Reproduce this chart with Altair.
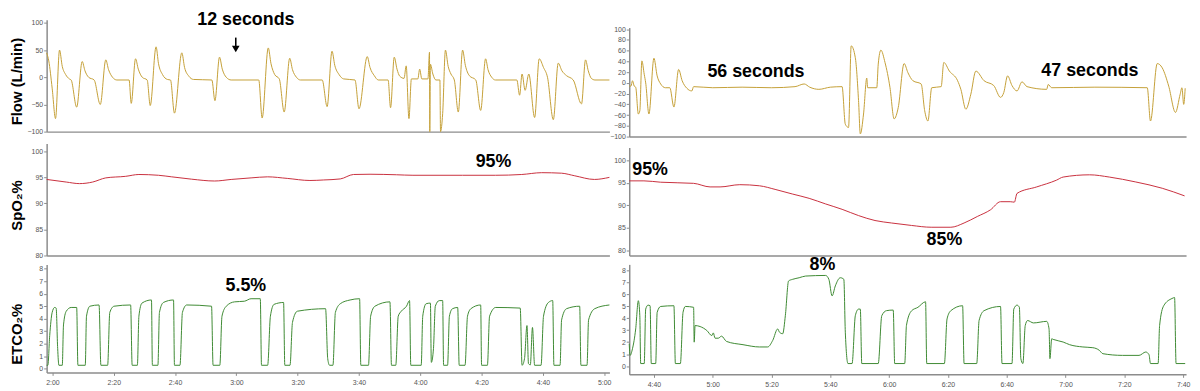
import altair as alt
import pandas as pd

# ---------------- data (time in seconds, value) ----------------
flow_left = [
    (118.1, 45), (118.8, 30), (119.9, -20), (121.0, -76), (122.3, 50), (123.2, 20), (124.3, 5), (125.5, -3), (126.1, -5),
    (127.9, -55), (129.7, 29), (130.6, 12), (131.8, 0), (133.6, -5),
    (135.6, -50), (137.4, 32), (138.3, 14), (139.6, 0), (141.0, -5), (145.0, -5),
    (145.7, -48), (147.1, 34), (148.0, 15), (149.3, 0), (150.9, -5),
    (151.9, -52), (153.8, 56), (154.6, 25), (155.9, 5), (157.5, -4), (158.5, -5),
    (159.8, -66), (162.2, 45), (163.1, 18), (164.5, 2), (166.0, -4), (172.0, -5),
    (173.0, -43), (174.5, 37), (175.4, 15), (176.7, 0), (178.3, -5), (187.3, -5),
    (188.4, -75), (190.4, 54), (191.3, 25), (192.5, 5), (194.0, -3),
    (195.6, -64), (197.4, 35), (198.3, 14), (199.6, 0), (200.9, -5),
    (208.0, -5), (209.6, -54), (211.2, 48), (212.1, 22), (213.5, 5), (215.0, -3), (218.7, -5),
    (220.0, -58), (222.7, 38), (223.6, 18), (225.0, 3), (226.3, -5), (229.5, -5),
    (230.3, -56), (231.5, 37), (232.4, 15), (233.3, 2), (234.7, -2), (235.4, 21), (236.3, -76),
    (237.1, -3), (239.2, -3), (239.8, 15), (240.5, -3), (242.5, -3), (243.0, 46), (243.1, -100),
    (243.3, 24), (244.1, 6), (245.1, -5), (246.4, -5), (246.6, -100), (247.3, -67), (248.2, 50),
    (249.1, 20), (250.0, 6), (251.1, -5), (252.4, -64), (253.8, 50), (254.7, 22), (256.0, 3),
    (258.1, -5), (259.7, -61), (261.3, 34), (262.1, 14), (263.3, 0), (264.5, -5), (271.5, -5),
    (272.4, -33), (273.2, 6), (274.2, -24), (275.4, 6), (277.3, -74), (278.8, 34), (280.2, 18),
    (281.5, 0), (283.4, -78), (285.0, 26), (286.2, 12), (287.7, 3), (289.9, -5), (292.6, -49),
    (293.9, 32), (294.8, 12), (295.8, -2), (297.0, -5), (301.7, -5),
]

flow_right = [
    (271.6, -6), (272.2, -6), (272.7, 4), (273.3, -6), (273.8, -8), (274.7, -58), (275.2, -52),
    (275.9, 41), (276.7, 16), (277.2, 0), (278.3, -58), (280.0, 46), (281.1, 13), (282.3, -2),
    (283.9, -9), (285.4, -9), (286.8, -45), (288.4, 25), (289.6, 4), (291.2, -10), (292.9, -15),
    (293.5, -7), (300.0, -9), (310.0, -8), (320.0, -9), (328.0, -7), (331.1, -2), (333.0, -8),
    (336.1, -12), (340.0, -8), (344.0, -7), (345.1, -77), (346.2, -83), (347.1, 69), (348.5, 47),
    (349.6, -33), (350.2, -95), (351.3, -58), (352.4, 9), (352.7, -9), (355.8, -9), (356.3, 35),
    (357.2, 61), (358.6, 38), (360.3, -9), (361.7, -67), (363.1, -46), (365.1, 36), (366.4, 19),
    (368.1, 4), (370.9, -2), (372.1, -52), (373.2, -71), (374.5, -9), (377.7, -7), (378.6, 38),
    (380.5, 22), (383.3, 4), (384.4, -12), (386.1, -49), (387.8, -21), (389.5, 22), (392.3, 4),
    (395.6, -5), (397.9, -27), (399.0, -18), (400.3, 13), (401.8, -5), (403.5, -15), (405.2, 2),
    (406.9, -7), (413.6, -12), (414.1, -3), (415.3, -9), (430.0, -8), (447.8, -9), (448.9, -71),
    (451.2, 36), (452.9, 28), (455.1, -6), (457.4, -55), (459.0, -21), (459.6, -9), (460.2, -40),
    (460.7, -10),
]

spo2_left = [
    (118.1, 94.6), (124.5, 94.1), (128.8, 93.8), (133.1, 94.1), (137.4, 94.9), (143.9, 95.2),
    (148.2, 95.55), (154.6, 95.4), (158.9, 95.1), (165.4, 94.65), (172.9, 94.3), (178.3, 94.6),
    (184.8, 94.9), (190.2, 95.1), (196.6, 94.8), (204.0, 94.4), (208.5, 94.5), (213.9, 94.7),
    (218.2, 95.55), (223.6, 95.6), (232.2, 95.5), (237.6, 95.4), (253.8, 95.4), (264.5, 95.4),
    (273.1, 95.55), (279.6, 95.9), (286.1, 95.8), (290.4, 95.3), (296.8, 94.6), (301.7, 95.0),
]

spo2_right = [
    (271.6, 95.45), (276.6, 95.45), (282.3, 95.15), (293.5, 94.9), (299.1, 94.1), (302.5, 94.1),
    (309.2, 94.6), (315.9, 94.35), (321.5, 93.5), (327.2, 92.5), (332.8, 91.55), (338.4, 90.3),
    (344.0, 89.1), (349.6, 87.7), (355.2, 86.6), (360.8, 86.05), (367.6, 85.5), (374.3, 85.1),
    (381.0, 85.1), (385.5, 86.05), (390.0, 87.5), (394.5, 89.0), (397.9, 90.8), (401.2, 90.8),
    (402.6, 90.7), (403.5, 92.65), (410.2, 94.1), (416.9, 95.6), (419.2, 96.3), (428.2, 96.8),
    (434.9, 96.3), (443.9, 95.2), (452.9, 93.8), (460.5, 92.1),
]

etco2_left = [
    (118.1, 0.27), (118.5, 0.27), (119.1, 2.65), (119.9, 4.5), (120.7, 4.9), (121.2, 4.85), (121.7, 1.6),
    (122.1, 0.27), (123.2, 0.27), (123.6, 3.5), (124.5, 4.6), (126.1, 4.9), (127.9, 4.9), (128.3, 0.27),
    (130.7, 0.27), (131.1, 4.2), (132.2, 5.0), (135.2, 5.1), (135.8, 0.27), (138.0, 0.27), (138.7, 4.5),
    (140.1, 5.0), (145.5, 5.1), (146.0, 0.27), (147.7, 0.27), (148.2, 4.2), (149.2, 5.25), (152.3, 5.5),
    (152.6, 0.27), (154.4, 0.27), (154.9, 4.5), (156.2, 5.3), (159.5, 5.5), (159.8, 0.27), (161.6, 0.27),
    (162.4, 4.5), (163.8, 5.1), (171.9, 5.0), (172.4, 0.27), (174.6, 0.27), (175.3, 4.2), (176.7, 5.0),
    (179.4, 5.35), (182.6, 5.4), (184.8, 5.6), (187.8, 5.6), (188.2, 0.27), (190.2, 0.27), (191.1, 4.2),
    (192.3, 5.15), (195.4, 5.3), (195.8, 0.27), (197.5, 0.27), (198.3, 3.7), (199.9, 4.6), (209.1, 4.8),
    (209.8, 0.8), (210.4, 0.27), (211.5, 0.27), (212.3, 4.5), (213.9, 5.2), (217.1, 5.5), (220.2, 5.6),
    (220.6, 0.27), (223.1, 0.27), (223.8, 4.2), (225.2, 5.0), (230.1, 5.35), (230.6, 0.27), (232.0, 0.27),
    (232.8, 4.2), (233.8, 4.6), (235.5, 5.0), (236.5, 5.45), (236.9, 0.27), (240.3, 0.27), (240.8, 4.2),
    (241.9, 5.2), (243.3, 5.25), (243.6, 0.5), (244.3, 1.6), (244.9, 5.0), (246.2, 5.45), (247.3, 5.45),
    (247.6, 0.27), (248.9, 0.27), (249.5, 4.2), (250.5, 4.8), (252.2, 4.9), (252.7, 0.27), (254.6, 0.27),
    (255.4, 4.2), (256.5, 4.8), (259.7, 5.1), (260.0, 0.27), (261.9, 0.27), (262.6, 4.2), (264.6, 4.9),
    (272.6, 4.85), (273.2, 0.27), (274.0, 0.8), (274.8, 3.45), (275.3, 0.4), (275.9, 0.3), (276.6, 3.3),
    (277.3, 0.27), (279.4, 0.27), (280.2, 4.2), (281.8, 5.3), (283.2, 5.45), (283.6, 0.27), (285.6, 0.27),
    (286.1, 3.9), (287.7, 4.8), (292.0, 5.0), (292.4, 0.27), (294.4, 0.27), (294.9, 3.9), (296.9, 4.8),
    (301.7, 5.1),
]

etco2_right = [
    (271.6, 1.87), (271.9, 0.9), (272.7, 1.45), (273.8, 3.1), (274.7, 5.45), (275.2, 4.2), (275.5, 0.22),
    (276.7, 0.22), (277.2, 4.75), (278.0, 5.08), (278.7, 5.03), (279.1, 0.22), (280.6, 0.22), (281.1, 4.48),
    (282.3, 4.97), (286.8, 5.03), (287.3, 0.22), (289.0, 0.22), (289.9, 4.48), (290.7, 4.97), (293.5, 4.9),
    (293.7, 2.0), (294.0, 3.38), (295.7, 3.3), (298.0, 2.97), (299.7, 2.55), (300.2, 2.77), (300.8, 2.33),
    (301.9, 2.33), (303.0, 2.5), (304.7, 2.06), (310.3, 1.79), (315.9, 1.6), (318.7, 1.6), (320.4, 2.14),
    (322.1, 3.1), (322.7, 2.83), (323.8, 2.7), (324.7, 4.2), (325.8, 7.09), (327.2, 7.23), (329.4, 7.36),
    (331.6, 7.5), (338.4, 7.55), (339.5, 7.23), (340.6, 5.85), (341.7, 6.68), (343.4, 7.36), (344.6, 7.23),
    (345.1, 2.83), (346.0, 0.22), (347.4, 0.22), (348.5, 4.2), (349.6, 4.75), (350.2, 4.75), (350.7, 0.22),
    (356.3, 0.22), (357.5, 4.2), (359.1, 4.62), (361.4, 4.67), (361.9, 0.22), (365.3, 0.22), (365.9, 3.4),
    (367.6, 4.6), (369.8, 4.9), (372.4, 5.36), (372.8, 0.22), (378.8, 0.22), (379.7, 3.93), (381.0, 4.62),
    (385.0, 5.03), (385.5, 0.22), (389.8, 0.22), (390.6, 3.8), (392.3, 4.62), (397.9, 4.97), (398.4, 0.22),
    (401.8, 0.22), (402.4, 4.75), (403.5, 5.08), (404.3, 4.9), (404.8, 0.63), (405.5, 0.22), (406.3, 3.38),
    (407.1, 3.8), (409.1, 3.6), (413.6, 3.73), (414.4, 3.1), (414.7, 0.63), (415.3, 2.28), (415.8, 2.23),
    (419.2, 2.01), (421.4, 1.79), (425.9, 1.6), (429.3, 1.54), (431.5, 1.32), (432.7, 1.04), (439.4, 0.9),
    (445.0, 0.9), (447.3, 1.18), (448.4, 0.96), (448.9, 0.22), (451.5, 0.22), (452.0, 3.38), (453.4, 5.03),
    (456.2, 5.63), (457.1, 5.71), (457.6, 0.22), (460.7, 0.22),
]

# annotations: (text, time, value)
flow_left_notes = [("12 seconds", 183.1, 105.1)]
flow_right_notes = [("56 seconds", 314.7, 20.0), ("47 seconds", 428.3, 21.8)]
spo2_left_notes = [("95%", 263.9, 98.0)]
spo2_right_notes = [("95%", 278.7, 97.8), ("85%", 378.8, 82.3)]
etco2_left_notes = [("5.5%", 183.1, 6.6)]
etco2_right_notes = [("8%", 337.3, 8.45)]
arrow = [(179.8, 73.0, 52.0)]  # time, from value, to value (flow left)

left_ticks = [120, 140, 160, 180, 200, 220, 240, 260, 280, 300]
right_ticks = [280, 300, 320, 340, 360, 380, 400, 420, 440, 460]

# ---------------- styling ----------------
FONT = "Liberation Sans"
W, H = 1150, 358
C_FLOW, C_SPO2, C_ETCO2 = "#C4A038", "#C8303E", "#3E8A33"

X_LEFT = dict(domain=[118.1, 301.7], range=[0, 568])
X_RIGHT = dict(domain=[271.6, 461.0], range=[588, 1150])

AX = dict(domainColor="#8c8c8c", domainWidth=1.5, tickColor="#8c8c8c", tickSize=3, tickWidth=1,
          labelFont=FONT, labelFontSize=7, labelColor="#555555", grid=False, labelOverlap=False,
          labelFlush=False)
TIME_EXPR = "floor(datum.value/60) + ':' + (datum.value % 60 < 10 ? '0' : '') + (datum.value % 60)"


def y_axis(values, offset, title=None, title_y=0):
    kw = dict(AX, values=values, orient="left", offset=offset, labelPadding=1)
    if title:
        kw.update(title=title, titleFont=FONT, titleFontSize=15, titleFontWeight="bold",
                  titleColor="#000000", titleAngle=270, titleAlign="center",
                  titleBaseline="middle", titleX=-30, titleY=title_y)
    else:
        kw.update(title=None)
    return alt.Axis(**kw)


def x_axis(offset, values, labels):
    kw = dict(AX, values=values, orient="bottom", offset=offset, title=None,
              labels=labels, ticks=labels, labelExpr=TIME_EXPR, labelPadding=3)
    return alt.Axis(**kw)


def panel(data, xs, ys, color, yaxis, xaxis, notes):
    xsc = alt.Scale(nice=False, zero=False, **xs)
    ysc = alt.Scale(nice=False, zero=False, **ys)
    df = pd.DataFrame(data, columns=["t", "v"])
    line = alt.Chart(df).mark_line(color=color, strokeWidth=1, interpolate="monotone").encode(
        x=alt.X("t:Q", scale=xsc, axis=xaxis),
        y=alt.Y("v:Q", scale=ysc, axis=yaxis),
    )
    ndf = pd.DataFrame(notes, columns=["label", "t", "v"])
    text = alt.Chart(ndf).mark_text(font=FONT, fontSize=18, fontWeight="bold", color="#000000",
                                    align="center", baseline="middle").encode(
        x=alt.X("t:Q", scale=xsc, axis=None),
        y=alt.Y("v:Q", scale=ysc, axis=None),
        text="label:N",
    )
    return [line, text], xsc, ysc


layers = []

fl, xsc, ysc = panel(flow_left, X_LEFT, dict(domain=[-100, 106], range=[113, 0]), C_FLOW,
                     y_axis([-100, -50, 0, 50, 100], 0, "Flow (L/min)", 62),
                     x_axis(-245, left_ticks, False), flow_left_notes)
layers += fl
adf = pd.DataFrame(arrow, columns=["t", "v1", "v2"])
layers.append(alt.Chart(adf).mark_rule(color="#000000", strokeWidth=1.6).encode(
    x=alt.X("t:Q", scale=xsc, axis=None),
    y=alt.Y("v1:Q", scale=ysc, axis=None),
    y2="v2:Q"))
layers.append(alt.Chart(adf).mark_point(shape="triangle-down", filled=True, color="#000000",
                                         size=60, opacity=1).encode(
    x=alt.X("t:Q", scale=xsc, axis=None),
    y=alt.Y("v2:Q", scale=ysc, axis=None)))

fr, _, _ = panel(flow_right, X_RIGHT, dict(domain=[-100, 103], range=[118, 8]), C_FLOW,
                 y_axis(list(range(-100, 101, 20)), -588),
                 x_axis(-240, right_ticks, False), flow_right_notes)
layers += fr

sl, _, _ = panel(spo2_left, X_LEFT, dict(domain=[80, 101.5], range=[238, 125]), C_SPO2,
                 y_axis([80, 85, 90, 95, 100], 0, "SpO₂%", 187),
                 x_axis(-120, left_ticks, False), spo2_left_notes)
layers += sl

sr, _, _ = panel(spo2_right, X_RIGHT, dict(domain=[78.8, 102.9], range=[238, 129]), C_SPO2,
                 y_axis([80, 85, 90, 95, 100], -588),
                 x_axis(-120, right_ticks, False), spo2_right_notes)
layers += sr

el, _, _ = panel(etco2_left, X_LEFT, dict(domain=[-0.3, 8.35], range=[356, 247]), C_ETCO2,
                 y_axis(list(range(0, 9)), 0, "ETCO₂%", 317),
                 x_axis(-2, left_ticks, True), etco2_left_notes)
layers += el

er, _, _ = panel(etco2_right, X_RIGHT, dict(domain=[-0.68, 8.47], range=[358, 247]), C_ETCO2,
                 y_axis(list(range(0, 9)), -588),
                 x_axis(0, right_ticks, True), etco2_right_notes)
layers += er

chart = alt.layer(*layers).resolve_scale(
    x="independent", y="independent"
).resolve_axis(
    x="independent", y="independent"
).properties(
    width=W, height=H,
    autosize=alt.AutoSizeParams(type="none"),
    padding={"left": 39, "top": 10, "right": 6, "bottom": 14},
).configure_view(stroke=None)

chart.save("out.html", embed_options={"renderer": "svg", "actions": False})
